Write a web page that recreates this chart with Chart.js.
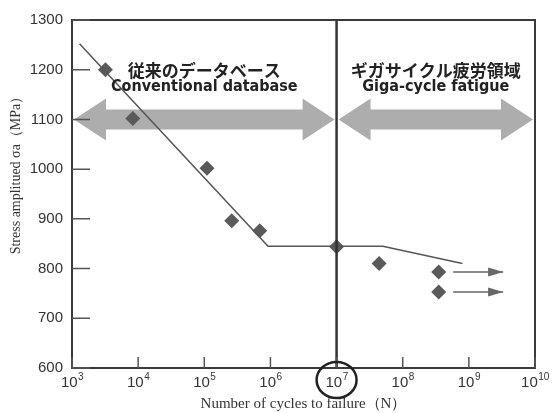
<!DOCTYPE html>
<html>
<head>
<meta charset="utf-8">
<script src="https://cdn.jsdelivr.net/npm/chart.js@4/dist/chart.umd.min.js"></script>
<style>
  html, body { margin: 0; padding: 0; background: #fff; }
  #wrap { width: 552px; height: 413px; }
</style>
</head>
<body>
<div id="wrap"><canvas id="snChart" width="552" height="413"></canvas></div>
<script>
// measured points (cycles to failure, stress amplitude MPa)
const cycles = [3.2e3, 8.3e3, 1.1e5, 2.6e5, 6.9e5, 1e7, 4.4e7, 3.5e8, 3.5e8];
const stress = [1200, 1102, 1002, 896, 876, 844, 810, 793, 753];

// S-N curve
const curveCycles = [1.3e3, 9.2e5, 5e7, 8e8];
const curveStress = [1252, 845, 845, 810];

// run-out arrows
const runoutStress = [793, 753];
const runoutCycles = [5.8e8, 3.3e9];

// axes
const xTicks = [1e3, 1e4, 1e5, 1e6, 1e7, 1e8, 1e9, 1e10];
const yTicks = [600, 700, 800, 900, 1000, 1100, 1200, 1300];
const boundary = 1e7;

// regions
const regionStart = [1e3, 1e7];
const regionEnd = [1e7, 1e10];
const regionJp = ['従来のデータベース', 'ギガサイクル疲労領域'];
const regionEn = ['Conventional database', 'Giga-cycle fatigue'];
const arrowStress = 1100;

const decor = {
    id: 'decor',
    beforeDatasetsDraw(chart) {
        let ctx = chart.ctx, x = chart.scales.x, y = chart.scales.y;
        let cy = y.getPixelForValue(arrowStress);
        ctx.save();
        ctx.fillStyle = '#adadad';
        for (let i = 0; i < regionStart.length; i++) {
            let x0 = x.getPixelForValue(regionStart[i]) + 2;
            let x1 = x.getPixelForValue(regionEnd[i]) - 2;
            let hl = 32, hh = 21, sh = 10;
            ctx.beginPath();
            ctx.moveTo(x0, cy);
            ctx.lineTo(x0 + hl, cy - hh);
            ctx.lineTo(x0 + hl, cy - sh);
            ctx.lineTo(x1 - hl, cy - sh);
            ctx.lineTo(x1 - hl, cy - hh);
            ctx.lineTo(x1, cy);
            ctx.lineTo(x1 - hl, cy + hh);
            ctx.lineTo(x1 - hl, cy + sh);
            ctx.lineTo(x0 + hl, cy + sh);
            ctx.lineTo(x0 + hl, cy + hh);
            ctx.closePath();
            ctx.fill();
        }
        ctx.restore();
    },
    afterDatasetsDraw(chart) {
        let ctx = chart.ctx, x = chart.scales.x, y = chart.scales.y;
        let a = chart.chartArea;
        ctx.save();
        // run-out arrowheads
        ctx.fillStyle = '#666';
        runoutStress.forEach(s => {
            let tx = x.getPixelForValue(runoutCycles[1]);
            let ty = y.getPixelForValue(s);
            ctx.beginPath();
            ctx.moveTo(tx, ty);
            ctx.lineTo(tx - 15, ty - 4.5);
            ctx.lineTo(tx - 15, ty + 4.5);
            ctx.closePath();
            ctx.fill();
        });
        // frame
        ctx.strokeStyle = '#3a3a3a';
        ctx.lineWidth = 2;
        ctx.strokeRect(a.left, a.top, a.right - a.left, a.bottom - a.top);
        // inward ticks
        ctx.lineWidth = 1.5;
        ctx.strokeStyle = '#555';
        ctx.beginPath();
        yTicks.forEach(v => {
            let py = y.getPixelForValue(v);
            ctx.moveTo(a.left, py);
            ctx.lineTo(a.left + 18, py);
        });
        xTicks.forEach(v => {
            let px = x.getPixelForValue(v);
            ctx.moveTo(px, a.bottom);
            ctx.lineTo(px, a.bottom - 11);
        });
        ctx.stroke();
        // x tick labels: 10 with a raised exponent
        ctx.fillStyle = '#333';
        ctx.textBaseline = 'alphabetic';
        xTicks.forEach(v => {
            let e = String(Math.round(Math.log10(v)));
            ctx.font = '15px "Liberation Sans", sans-serif';
            let w1 = ctx.measureText('10').width;
            ctx.font = '10px "Liberation Sans", sans-serif';
            let w2 = ctx.measureText(e).width;
            let px = x.getPixelForValue(v) - (w1 + w2) / 2;
            ctx.textAlign = 'left';
            ctx.font = '15px "Liberation Sans", sans-serif';
            ctx.fillText('10', px, a.bottom + 19);
            ctx.font = '10px "Liberation Sans", sans-serif';
            ctx.fillText(e, px + w1 + 0.5, a.bottom + 12);
        });
        // circle round 10^7
        ctx.lineWidth = 2.5;
        ctx.strokeStyle = '#222';
        ctx.beginPath();
        ctx.ellipse(x.getPixelForValue(boundary), a.bottom + 12, 20, 18, 0, 0, Math.PI * 2);
        ctx.stroke();
        // region labels
        ctx.fillStyle = '#222';
        ctx.textAlign = 'center';
        ctx.textBaseline = 'middle';
        for (let i = 0; i < regionJp.length; i++) {
            let x0 = x.getPixelForValue(regionStart[i]);
            let x1 = x.getPixelForValue(regionEnd[i]);
            let mx = (x0 + x1) / 2;
            ctx.font = 'bold 17px "Noto Sans CJK JP"';
            ctx.fillText(regionJp[i], mx, y.getPixelForValue(1200) + 1);
            ctx.font = 'bold 16px "Liberation Sans Narrow", "DejaVu Sans Condensed", sans-serif';
            ctx.fillText(regionEn[i], mx, y.getPixelForValue(1166));
        }
        // y axis title
        ctx.translate(16, 172);
        ctx.rotate(-Math.PI / 2);
        ctx.font = '14px "Liberation Serif", serif';
        ctx.fillStyle = '#333';
        ctx.fillText('Stress amplitued σa（MPa）', 0, 0);
        ctx.restore();
    }
};

let ct = document.querySelector('#snChart').getContext('2d');

let snChart = new Chart(ct, {
    type: 'scatter',
    data: {
        datasets: [{
            label: 'boundary',
            data: [{x: boundary, y: 600}, {x: boundary, y: 1300}],
            showLine: true,
            borderColor: '#333',
            borderWidth: 2.5,
            pointRadius: 0
        }, {
            label: 'S-N curve',
            data: curveCycles.map((c, i) => ({x: c, y: curveStress[i]})),
            showLine: true,
            borderColor: '#555',
            borderWidth: 1.5,
            pointRadius: 0
        }, {
            label: 'run-out 1',
            data: runoutCycles.map(c => ({x: c, y: runoutStress[0]})),
            showLine: true,
            borderColor: '#666',
            borderWidth: 1.5,
            pointRadius: 0
        }, {
            label: 'run-out 2',
            data: runoutCycles.map(c => ({x: c, y: runoutStress[1]})),
            showLine: true,
            borderColor: '#666',
            borderWidth: 1.5,
            pointRadius: 0
        }, {
            label: 'tests',
            data: cycles.map((c, i) => ({x: c, y: stress[i]})),
            pointStyle: 'rectRot',
            pointRadius: 7.5,
            backgroundColor: '#5a5a5a',
            borderColor: '#5a5a5a',
            borderWidth: 0
        }]
    },
    options: {
        responsive: false,
        animation: false,
        layout: { padding: { top: 20, right: 17, left: 0, bottom: 0 } },
        plugins: { legend: { display: false }, tooltip: { enabled: false } },
        scales: {
            x: {
                type: 'logarithmic',
                min: 1e3,
                max: 1e10,
                afterBuildTicks: s => { s.ticks = xTicks.map(v => ({value: v})); },
                afterFit: s => { s.height = 45; },
                grid: { display: false, drawTicks: false },
                border: { display: false },
                ticks: { display: false },
                title: {
                    display: true,
                    text: 'Number of cycles to failure（N）',
                    color: '#333',
                    padding: { top: 0, bottom: 0 },
                    font: { family: '"Liberation Serif", serif', size: 15 }
                }
            },
            y: {
                min: 600,
                max: 1300,
                afterBuildTicks: s => { s.ticks = yTicks.map(v => ({value: v})); },
                afterFit: s => { s.width = 72; },
                grid: { display: false, drawTicks: false },
                border: { display: false },
                ticks: {
                    autoSkip: false,
                    padding: 9,
                    color: '#333',
                    font: { family: '"Liberation Sans", sans-serif', size: 15 },
                    callback: v => String(v)
                }
            }
        }
    },
    plugins: [decor]
});
</script>
</body>
</html>
